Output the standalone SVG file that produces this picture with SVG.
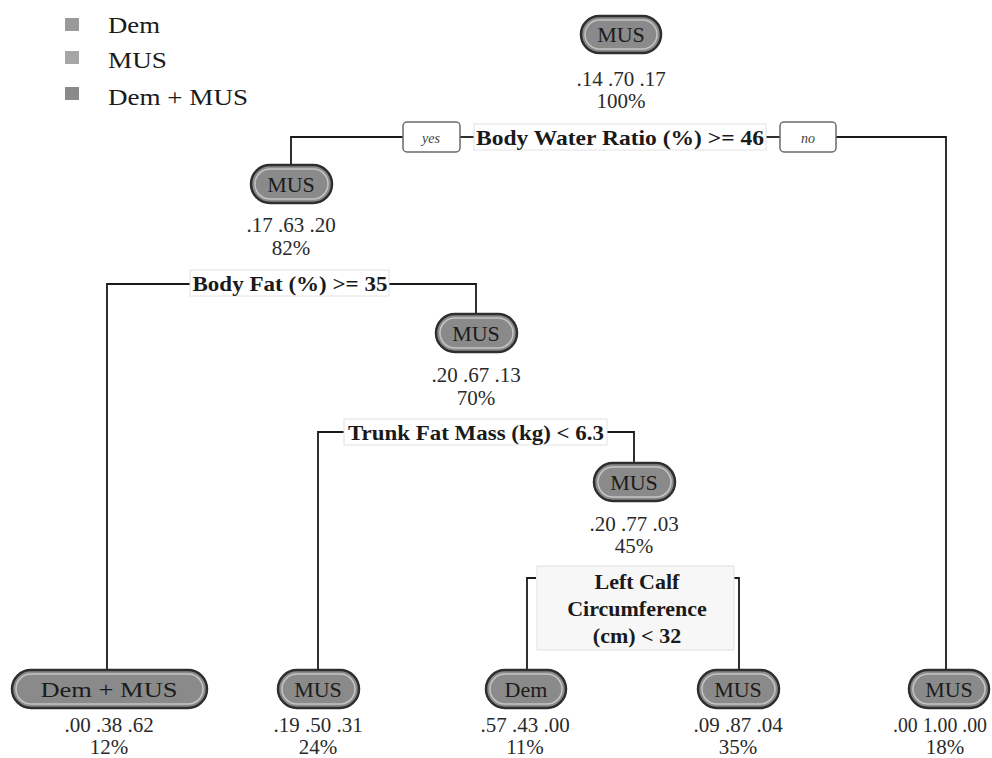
<svg xmlns="http://www.w3.org/2000/svg" width="992" height="758" viewBox="0 0 992 758">
<style>
.bg{fill:#ffffff}
.pill{fill:#8a8a8a;stroke:#2e2e2e;stroke-width:2.5}
.inner{fill:none;stroke:#c4c4c4;stroke-width:1.5}
.nt{font-family:"Liberation Serif","DejaVu Serif",serif;font-size:22px;fill:#1c1c1c;text-anchor:middle}
.num{font-family:"Liberation Serif","DejaVu Serif",serif;font-size:21px;fill:#2a2a2a;text-anchor:middle}
.cond{font-family:"Liberation Serif","DejaVu Serif",serif;font-size:22px;font-weight:bold;fill:#1a1a1a;text-anchor:middle}
.lab{fill:#ffffff;stroke:#e2e2e2;stroke-width:1}
.yn{fill:#ffffff;stroke:#6a6a6a;stroke-width:1.5}
.ynt{font-family:"Liberation Serif","DejaVu Serif",serif;font-size:14px;font-style:italic;fill:#444;text-anchor:middle}
.leg{font-family:"Liberation Serif","DejaVu Serif",serif;font-size:24px;fill:#1a1a1a}
.edge{fill:none;stroke:#1a1a1a;stroke-width:1.8}
</style>
<rect class="bg" x="0" y="0" width="992" height="758"/>

<g id="legend">
  <rect x="65" y="18" width="14" height="13" fill="#9a9a9a"/>
  <rect x="65" y="51" width="14" height="13" fill="#a6a6a6"/>
  <rect x="65" y="87" width="14" height="13" fill="#8a8a8a"/>
  <text class="leg" x="108" y="33" textLength="52" lengthAdjust="spacingAndGlyphs">Dem</text>
  <text class="leg" x="108" y="68" textLength="59" lengthAdjust="spacingAndGlyphs">MUS</text>
  <text class="leg" x="108" y="105" textLength="140" lengthAdjust="spacingAndGlyphs">Dem + MUS</text>
</g>

<g id="connectors">
  <path class="edge" d="M291,165 V137 H403"/>
  <path class="edge" d="M460,137 H476"/>
  <path class="edge" d="M764,137 H780"/>
  <path class="edge" d="M836,137 H946 V672"/>
  <path class="edge" d="M107,672 V284 H192"/>
  <path class="edge" d="M387,284 H476 V314"/>
  <path class="edge" d="M318,672 V432 H346"/>
  <path class="edge" d="M605,432 H634 V463"/>
  <path class="edge" d="M527,672 V578 H536"/>
  <path class="edge" d="M733,578 H739 V672"/>
</g>

<g id="cond1">
  <rect class="lab" x="474" y="124" width="292" height="26"/>
  <text class="cond" x="620" y="145" textLength="288" lengthAdjust="spacingAndGlyphs">Body Water Ratio (%) &gt;= 46</text>
  <rect class="yn" x="403" y="122" width="57" height="30" rx="4"/>
  <text class="ynt" x="431" y="143">yes</text>
  <rect class="yn" x="780" y="122" width="56" height="30" rx="4"/>
  <text class="ynt" x="808" y="143">no</text>
</g>
<g id="cond2">
  <rect class="lab" x="190" y="270" width="199" height="26"/>
  <text class="cond" x="290" y="291" textLength="195" lengthAdjust="spacingAndGlyphs">Body Fat (%) &gt;= 35</text>
</g>
<g id="cond3">
  <rect class="lab" x="344" y="419" width="263" height="26"/>
  <text class="cond" x="476" y="440" textLength="256" lengthAdjust="spacingAndGlyphs">Trunk Fat Mass (kg) &lt; 6.3</text>
</g>
<g id="cond4">
  <rect x="537" y="566" width="197" height="84" fill="#f7f7f7" stroke="#e0e0e0" stroke-width="1"/>
  <text class="cond" x="637" y="589">Left Calf</text>
  <text class="cond" x="637" y="616">Circumference</text>
  <text class="cond" x="637" y="643">(cm) &lt; 32</text>
</g>

<g id="node-root">
  <rect class="pill" x="581" y="16" width="80" height="37" rx="18.5"/>
  <rect class="inner" x="585" y="20" width="72" height="29" rx="14.5"/>
  <text class="nt" x="621" y="42">MUS</text>
  <text class="num" x="621" y="86">.14 .70 .17</text>
  <text class="num" x="621" y="108">100%</text>
</g>
<g id="node-2">
  <rect class="pill" x="251" y="165" width="81" height="38" rx="19"/>
  <rect class="inner" x="255" y="169" width="73" height="30" rx="15"/>
  <text class="nt" x="291" y="192">MUS</text>
  <text class="num" x="291" y="232">.17 .63 .20</text>
  <text class="num" x="291" y="255">82%</text>
</g>
<g id="node-3">
  <rect class="pill" x="436" y="314" width="81" height="38" rx="19"/>
  <rect class="inner" x="440" y="318" width="73" height="30" rx="15"/>
  <text class="nt" x="476" y="341">MUS</text>
  <text class="num" x="476" y="382">.20 .67 .13</text>
  <text class="num" x="476" y="405">70%</text>
</g>
<g id="node-4">
  <rect class="pill" x="594" y="463" width="81" height="38" rx="19"/>
  <rect class="inner" x="598" y="467" width="73" height="30" rx="15"/>
  <text class="nt" x="634" y="490">MUS</text>
  <text class="num" x="634" y="531">.20 .77 .03</text>
  <text class="num" x="634" y="553">45%</text>
</g>
<g id="leaf-1">
  <rect class="pill" x="12" y="670" width="195" height="38" rx="19"/>
  <rect class="inner" x="16" y="674" width="187" height="30" rx="15"/>
  <text class="nt" x="109" y="697" textLength="137" lengthAdjust="spacingAndGlyphs">Dem + MUS</text>
  <text class="num" x="109" y="732">.00 .38 .62</text>
  <text class="num" x="109" y="754">12%</text>
</g>
<g id="leaf-2">
  <rect class="pill" x="278" y="670" width="81" height="38" rx="19"/>
  <rect class="inner" x="282" y="674" width="73" height="30" rx="15"/>
  <text class="nt" x="318" y="697">MUS</text>
  <text class="num" x="318" y="732">.19 .50 .31</text>
  <text class="num" x="318" y="754">24%</text>
</g>
<g id="leaf-3">
  <rect class="pill" x="486" y="670" width="80" height="38" rx="19"/>
  <rect class="inner" x="490" y="674" width="72" height="30" rx="15"/>
  <text class="nt" x="526" y="697">Dem</text>
  <text class="num" x="525" y="732">.57 .43 .00</text>
  <text class="num" x="525" y="754">11%</text>
</g>
<g id="leaf-4">
  <rect class="pill" x="698" y="670" width="81" height="38" rx="19"/>
  <rect class="inner" x="702" y="674" width="73" height="30" rx="15"/>
  <text class="nt" x="738" y="697">MUS</text>
  <text class="num" x="738" y="732">.09 .87 .04</text>
  <text class="num" x="738" y="754">35%</text>
</g>
<g id="leaf-5">
  <rect class="pill" x="909" y="670" width="80" height="38" rx="19"/>
  <rect class="inner" x="913" y="674" width="72" height="30" rx="15"/>
  <text class="nt" x="949" y="697">MUS</text>
  <text class="num" x="940" y="732" textLength="94" lengthAdjust="spacingAndGlyphs">.00 1.00 .00</text>
  <text class="num" x="945" y="754">18%</text>
</g>
</svg>
